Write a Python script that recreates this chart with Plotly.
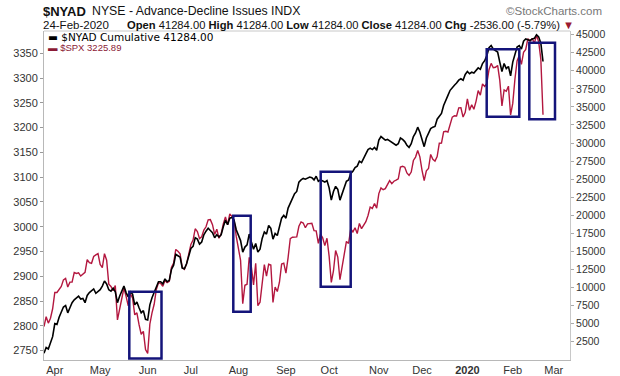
import pandas as pd
import plotly.graph_objects as go

# ---------------- data ----------------
holidays = ["2019-04-19", "2019-05-27", "2019-07-04", "2019-09-02", "2019-11-28",
            "2019-12-25", "2020-01-01", "2020-01-20", "2020-02-17"]
start_date = "2019-03-25"
end_date = "2020-02-24"

spx = [
    2798.36, 2818.46, 2805.37, 2815.44, 2834.40,
    2867.19, 2867.24, 2873.40, 2879.39, 2892.74, 2895.77, 2878.20, 2888.21, 2888.32, 2907.41, 2905.58, 2907.06, 2900.45, 2905.03, 2907.97, 2933.68, 2927.25, 2926.17, 2939.88, 2943.03, 2945.83,
    2923.73, 2917.52, 2945.64, 2932.47, 2884.05, 2879.42, 2870.72, 2881.40, 2811.87, 2834.41, 2850.96, 2876.32, 2859.53, 2840.23, 2864.36, 2856.27, 2822.24, 2826.06, 2802.39, 2783.02, 2788.86, 2752.06,
    2744.45, 2803.27, 2826.15, 2843.49, 2873.34, 2886.73, 2885.72, 2879.84, 2891.64, 2886.98, 2889.67, 2917.75, 2926.46, 2954.18, 2950.46, 2945.35, 2917.38, 2913.78, 2924.92, 2941.76,
    2964.33, 2973.01, 2995.82, 2990.41, 2975.95, 2979.63, 2993.07, 2999.91, 3013.77, 3014.30, 3004.04, 2984.42, 2995.11, 2976.61, 2985.03, 3005.47, 3019.56, 3003.67, 3025.86, 3020.97, 3013.18, 2980.38,
    2953.56, 2932.05, 2844.74, 2881.77, 2883.98, 2938.09, 2918.65, 2882.70, 2926.32, 2840.60, 2847.60, 2888.68, 2923.65, 2900.51, 2924.43, 2922.95, 2847.11, 2878.38, 2869.16, 2887.94, 2924.58, 2926.46,
    2906.27, 2937.78, 2976.00, 2978.71, 2978.43, 2979.39, 3000.93, 3009.57, 3007.39, 2997.96, 3005.70, 3006.73, 3006.79, 2992.07, 2991.78, 2966.60, 2984.87, 2977.62, 2961.79, 2976.74,
    2940.25, 2887.61, 2910.63, 2952.01, 2938.79, 2893.06, 2919.40, 2938.13, 2970.27, 2966.15, 2995.68, 2989.69, 2997.95, 2986.20, 3006.72, 2995.99, 3004.52, 3010.29, 3022.55, 3039.42, 3036.89, 3046.77, 3037.56,
    3066.91, 3078.27, 3074.62, 3076.78, 3085.18, 3093.08, 3087.01, 3091.84, 3094.04, 3096.63, 3120.46, 3122.03, 3120.18, 3108.46, 3103.54, 3110.29, 3133.64, 3140.52, 3153.63, 3140.98,
    3113.87, 3093.20, 3112.76, 3117.43, 3145.91, 3135.96, 3132.52, 3141.63, 3168.57, 3168.80, 3191.45, 3192.52, 3191.14, 3205.37, 3221.22, 3224.01, 3223.38, 3239.91, 3240.02, 3221.29, 3230.78,
    3257.85, 3234.85, 3246.28, 3237.18, 3253.05, 3274.70, 3265.35, 3288.13, 3283.15, 3289.29, 3316.81, 3329.62, 3320.79, 3321.75, 3325.54, 3295.47, 3243.63, 3276.24, 3273.40, 3283.66, 3225.52,
    3248.92, 3297.59, 3334.69, 3345.78, 3327.71, 3352.09, 3357.75, 3379.45, 3373.94, 3380.16, 3370.29, 3386.15, 3373.23, 3337.75, 3225.89,
]

nyad = [
    900, 1700, 1500, 2300, 3200,
    5000, 4900, 5900, 6500, 7300, 7500, 6500, 7200, 7900, 8300, 8600, 8800, 8400, 8500, 7900, 8900, 9300, 9500, 9800, 9200, 9500,
    9700, 10200, 10900, 10500, 9700, 9500, 9900, 9400, 7900, 8800, 9600, 10200, 9300, 8700, 9400, 9100, 7600, 8000, 7200, 6500, 6800, 5600,
    5500, 7600, 8600, 9300, 9900, 10800, 10800, 10500, 11200, 10800, 11000, 12500, 13100, 14600, 14400, 14200, 12700, 12600, 13300, 14200,
    15400, 15700, 16900, 16700, 16000, 16300, 17300, 17800, 18200, 17900, 17600, 16900, 17300, 17000, 17300, 18400, 19300, 18700, 19600, 19700, 19300, 18000,
    17300, 16500, 14900, 15600, 15900, 17400, 16300, 15300, 16100, 14900, 15300, 16800, 17700, 17400, 18600, 18200, 16700, 17500, 17200, 18300, 19600, 20000,
    19600, 21000, 21700, 22400, 23000, 23300, 24600, 24900, 25100, 25000, 25200, 25300, 25200, 24900, 25400, 24700, 24900, 24700, 24600, 24800,
    23800, 22100, 23300, 24000, 23600, 22100, 23000, 23600, 24700, 24900, 25800, 26100, 26600, 26800, 27500, 27300, 28000, 28500, 29100, 29300, 29100, 29400, 29000,
    30400, 30900, 30600, 30400, 30500, 30300, 30100, 30000, 29700, 29900, 30700, 30500, 30200, 29700, 29400, 29900, 30900, 31400, 32200, 31500,
    30400, 29500, 30700, 31300, 32000, 32200, 32300, 33300, 33800, 34100, 35200, 36000, 36600, 37300, 37700, 38000, 38300, 38700, 38900, 38700, 39500,
    39900, 39600, 39800, 39700, 40100, 40400, 40200, 41000, 41400, 42100, 43200, 43500, 43000, 42800, 42600, 41200, 39900, 41000, 40300, 40600, 39300,
    41200, 42300, 43300, 43500, 43000, 44100, 44400, 44300, 44200, 44400, 44500, 45000, 44700, 43820, 41284,
]

month_tick_dates = ["2019-04-01", "2019-05-01", "2019-06-03", "2019-07-01", "2019-08-01", "2019-09-03",
                    "2019-10-01", "2019-11-01", "2019-12-02", "2020-01-02", "2020-02-03", "2020-03-02"]
month_tick_labels = ["Apr", "May", "Jun", "Jul", "Aug", "Sep", "Oct", "Nov", "Dec", "<b>2020</b>", "Feb", "Mar"]
spx_ticks = list(range(2750, 3351, 50))
nyad_ticks = list(range(2500, 45001, 2500))

dates = [d for d in pd.bdate_range(start_date, end_date) if d.strftime("%Y-%m-%d") not in holidays]
assert len(dates) == len(spx) == len(nyad)

# ---------------- layout geometry ----------------
W, H = 620, 376
L, R, T, B = 44, 50, 31, 16
PW, PH = W - L - R, H - T - B


def px(x):
    return (x - L) / PW


def py(y):
    return (H - B - y) / PH


RED = "#b3173f"
NAVY = "#14147a"
SANS = "Liberation Sans, Arial, sans-serif"

fig = go.Figure()
fig.add_trace(go.Scatter(x=dates, y=spx, mode="lines", line=dict(color=RED, width=1.4),
                         yaxis="y", showlegend=False))
fig.add_trace(go.Scatter(x=dates, y=nyad, mode="lines", line=dict(color="#000000", width=1.6),
                         yaxis="y2", showlegend=False))

boxes = [(129.3, 161.5, 291.7, 358.5), (233.3, 250.7, 215.7, 311.7), (320.7, 350.7, 171.7, 286.7),
         (486.7, 519.3, 49.3, 116.7), (529.3, 555.0, 42.7, 119.3)]
shapes = []
for x0, x1, y0, y1 in boxes:
    shapes.append(dict(type="rect", xref="paper", yref="paper", x0=px(x0), x1=px(x1), y0=py(y1), y1=py(y0),
                       line=dict(color=NAVY, width=2.5), fillcolor="rgba(0,0,0,0)", layer="above"))
shapes.append(dict(type="line", xref="paper", yref="paper", x0=0, x1=1, y0=1, y1=1,
                   line=dict(color="#c8c8c8", width=1)))

annotations = [
    dict(x=px(41), y=py(11), text="<b>$NYAD</b>", font=dict(family=SANS, size=13, color="#111")),
    dict(x=px(90), y=py(11.5), text="NYSE - Advance-Decline Issues INDX", font=dict(family=SANS, size=12.3, color="#111")),
    dict(x=px(504), y=py(11), text="©StockCharts.com", font=dict(family=SANS, size=11.5, color="#777")),
    dict(x=px(41), y=py(25), text="24-Feb-2020", font=dict(family=SANS, size=11.5, color="#111")),
    dict(x=px(125), y=py(25),
         text="<b>Open</b> 41284.00 <b>High</b> 41284.00 <b>Low</b> 41284.00 <b>Close</b> 41284.00 <b>Chg</b> -2536.00 (-5.79%) <span style='color:#9b1b30'>▼</span>",
         font=dict(family=SANS, size=11.2, color="#111")),
    dict(x=px(46), y=py(37), text="▬ $NYAD Cumulative 41284.00", font=dict(family="DejaVu Sans", size=10.5, color="#000")),
    dict(x=px(46), y=py(47), text="▬ $SPX 3225.89", font=dict(family=SANS, size=9.5, color="#8b1a35")),
]
for a in annotations:
    a.update(xref="paper", yref="paper", xanchor="left", yanchor="middle", showarrow=False)

fig.update_layout(
    width=W, height=H, margin=dict(l=L, r=R, t=T, b=B, autoexpand=False),
    paper_bgcolor="white", plot_bgcolor="white",
    font=dict(family=SANS, size=11, color="#333"),
    shapes=shapes, annotations=annotations,
    xaxis=dict(type="date", range=["2019-03-25", "2020-03-11 12:00"], automargin=False,
               rangebreaks=[dict(bounds=["sat", "mon"]), dict(values=holidays)],
               tickmode="array", tickvals=month_tick_dates, ticktext=month_tick_labels,
               showgrid=False, zeroline=False, showline=True, linecolor="#b8b8b8", linewidth=1,
               ticks="", tickfont=dict(size=11, color="#333")),
    yaxis=dict(range=[2731, 3395], tickmode="array", tickvals=spx_ticks, automargin=False,
               showgrid=False, zeroline=False, showline=True, linecolor="#b8b8b8", ticks="outside",
               ticklen=3, tickcolor="#999", tickfont=dict(size=11, color="#333")),
    yaxis2=dict(range=[-30, 45510], overlaying="y", side="right", tickmode="array", tickvals=nyad_ticks,
                ticktext=[str(v) for v in nyad_ticks], automargin=False,
                showgrid=False, zeroline=False, showline=True, linecolor="#c8c8c8", ticks="outside",
                ticklen=3, tickcolor="#aaa", tickfont=dict(size=10.5, color="#333")),
)

fig.write_html("out.html", config={"displayModeBar": False},
               post_script="document.body.style.margin='0';")
